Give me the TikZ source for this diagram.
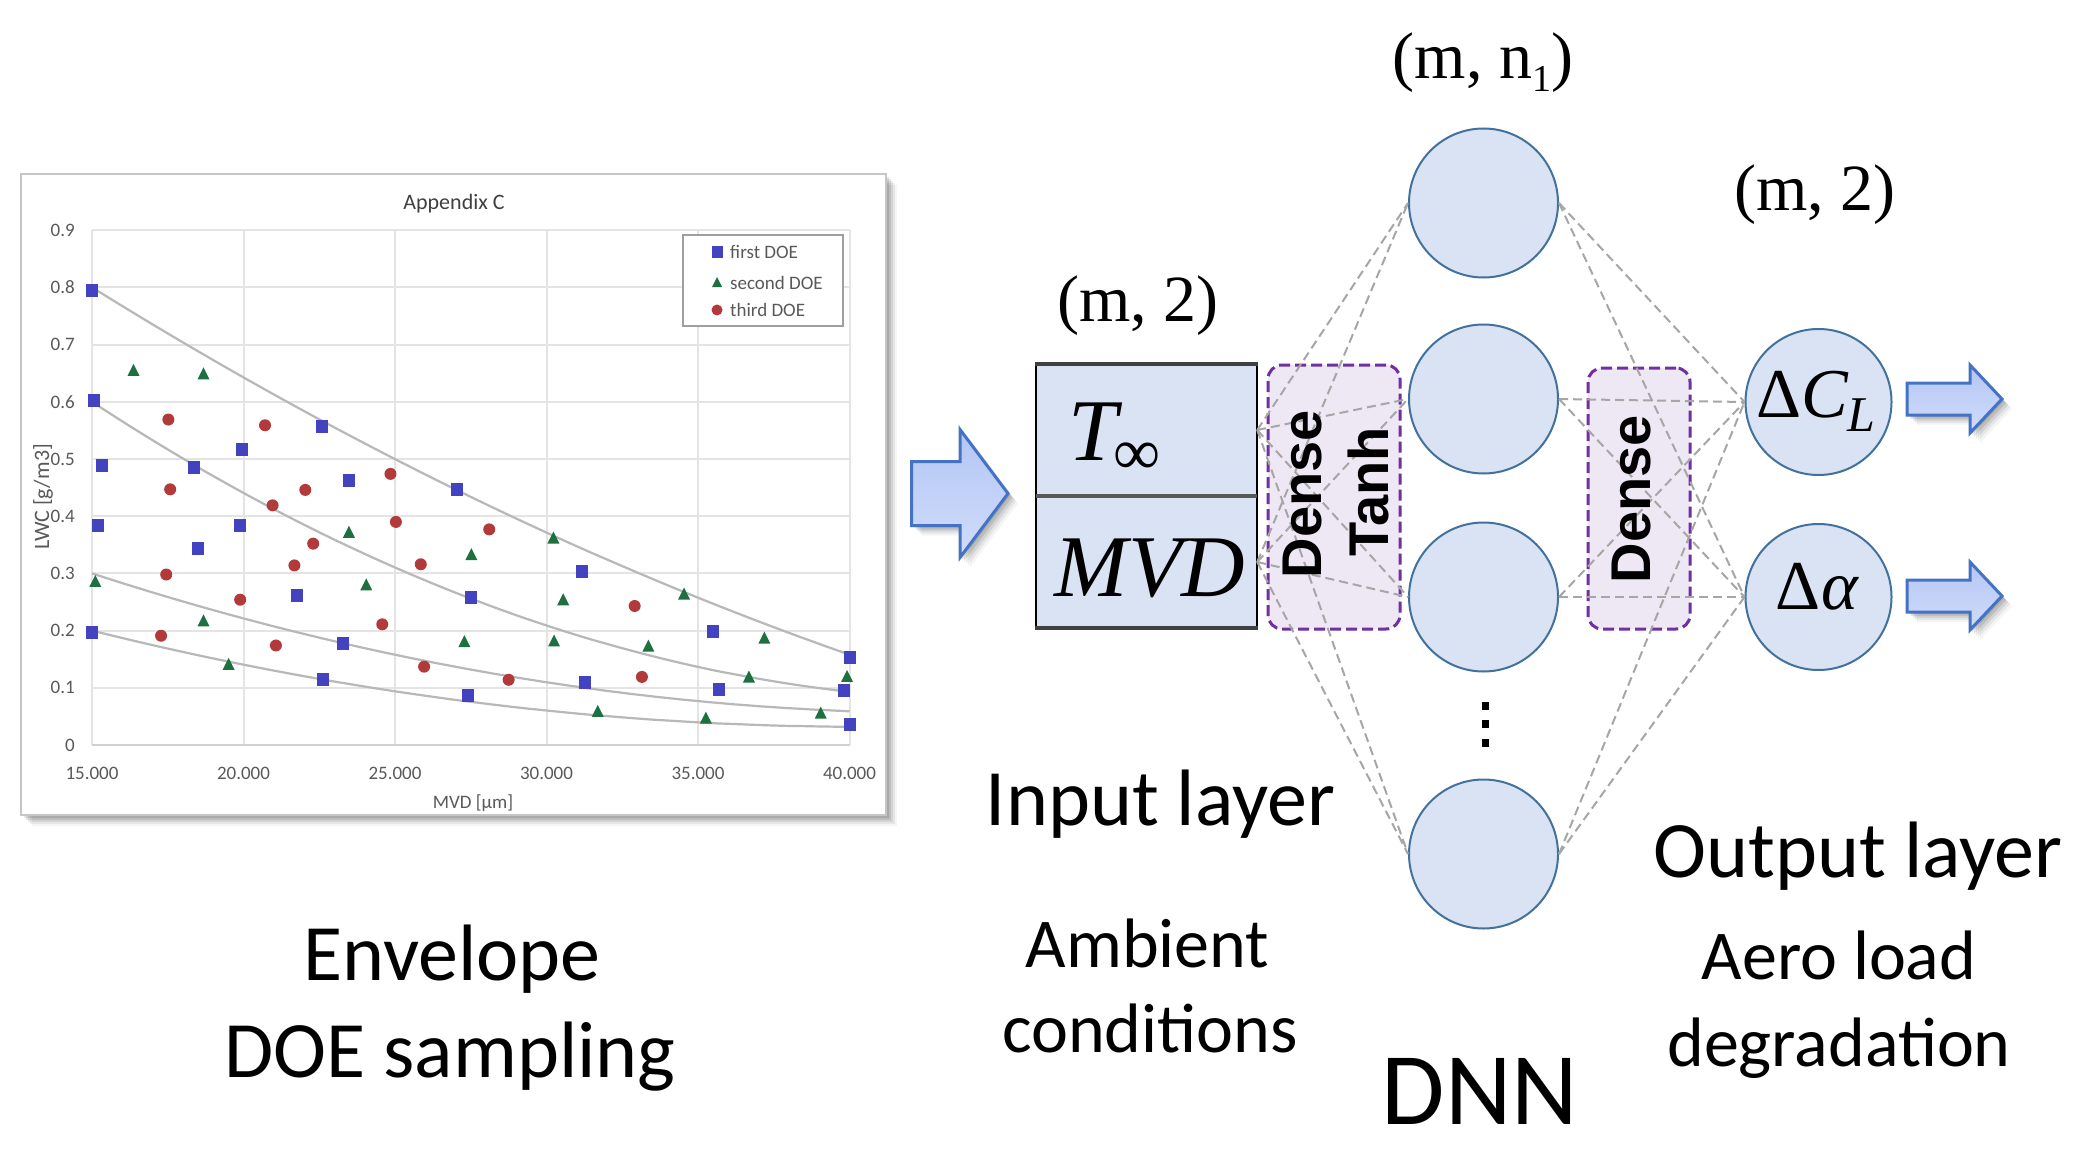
\documentclass[tikz,border=0pt]{standalone}
\usepackage{fontspec}
\setmainfont{Carlito}
\newfontfamily\serifF{Liberation Serif}
\newfontfamily\sansF{Liberation Sans}
\definecolor{cfill}{HTML}{DAE3F3}
\definecolor{cdraw}{HTML}{41719C}
\definecolor{lav}{HTML}{EEE8F5}
\definecolor{purp}{HTML}{7030A0}
\definecolor{connc}{HTML}{A6A6A6}
\definecolor{arrfill}{HTML}{D0DCFA}
\definecolor{arrfilltop}{HTML}{B3C6F4}
\definecolor{arrdraw}{HTML}{4472C4}
\definecolor{mblue}{HTML}{4343BF}
\definecolor{mgreen}{HTML}{1E7040}
\definecolor{mred}{HTML}{B23A3A}
\definecolor{gridc}{HTML}{E4E4E4}
\definecolor{trend}{HTML}{B8B8B8}
\definecolor{axtext}{HTML}{595959}
\newcommand{\rsarrow}[6]{%
  \foreach \k/\op in {10/0.04,8/0.06,6/0.08,4/0.10,2/0.10}{
    \fill[black,opacity=\op] (#1+\k,#2-#3+\k) -- (#4+\k,#2-#3+\k) -- (#4+\k,#2-#5+\k) -- (#6+\k,#2+\k) -- (#4+\k,#2+#5+\k) -- (#4+\k,#2+#3+\k) -- (#1+\k,#2+#3+\k) -- cycle;}
  \draw[bigarrow] (#1,#2-#3) -- (#4,#2-#3) -- (#4,#2-#5) -- (#6,#2) -- (#4,#2+#5) -- (#4,#2+#3) -- (#1,#2+#3) -- cycle;
}
\begin{document}
\begin{tikzpicture}[x=1pt,y=-1pt,
  neuron/.style={circle, draw=cdraw, line width=2pt, fill=cfill, minimum size=149pt, inner sep=0pt},
  cell/.style={rectangle, fill=cfill, minimum width=221pt, minimum height=132pt, inner sep=0pt},
  layerbox/.style={draw=purp, line width=3pt, dash pattern=on 11pt off 5pt, rounded corners=14pt, fill=lav},
  connline/.style={draw=connc, line width=2pt, dash pattern=on 9pt off 5pt},
  bigarrow/.style={draw=arrdraw, line width=3pt, top color=arrfilltop, bottom color=arrfill, line join=miter},
  lbl/.style={font=\fontsize{80}{96}\selectfont, anchor=base, inner sep=0pt},
  sublbl/.style={font=\fontsize{70}{84}\selectfont, anchor=base, inner sep=0pt},
  dimlbl/.style={font=\serifF\fontsize{66}{66}\selectfont, anchor=base, inner sep=0pt},
  axlbl/.style={font=\fontsize{19}{22}\selectfont, text=axtext, inner sep=0pt},
  densetxt/.style={rotate=90, font=\sansF\bfseries\fontsize{56}{56}\selectfont, inner sep=0pt}
]
\useasboundingbox (0,0) rectangle (2085,1161);
\fill[white] (0,0) rectangle (2085,1161);

% ---------------- chart ----------------
\foreach \k/\op in {11/0.04,9/0.06,7/0.08,5/0.10,3/0.10}{
  \fill[black,opacity=\op] (21+\k,174+\k) rectangle (886+\k,815+\k);}
\draw[gray!45, line width=1.5pt, fill=white] (21,174) rectangle (886,815);

\begin{scope}[shift={(-362.5pt,-745pt)}, x=30.3pt, y=572pt]
  \foreach \v in {1,...,9} \draw[gridc, line width=2pt] (15,\v/10) -- (40,\v/10);
  \foreach \u in {15,20,...,40} \draw[gridc, line width=2pt] (\u,0) -- (\u,0.9);
  \draw[gridc!80!gray, line width=2pt] (15,0) -- (40,0);
  \foreach \v/\t in {0/0,1/0.1,2/0.2,3/0.3,4/0.4,5/0.5,6/0.6,7/0.7,8/0.8,9/0.9}
    \node[axlbl, anchor=east, xshift=-17pt] (yl\v) at (15,\v/10) {\t};
  \foreach \u/\t in {15/15.000,20/20.000,25/25.000,30/30.000,35/35.000,40/40.000}
    \node[axlbl, yshift=-28pt] (xl\u) at (\u,0) {\t};
  % trend curves
  \draw[trend, line width=2.2pt, domain=15:40, samples=60] plot (\x, {0.8-0.03292*(\x-15)+0.000285*(\x-15)*(\x-15)});
  \draw[trend, line width=2.2pt, domain=15:40, samples=60] plot (\x, {0.6-0.03476*(\x-15)+0.0005856*(\x-15)*(\x-15)});
  \draw[trend, line width=2.2pt, domain=15:40, samples=60] plot (\x, {0.3-0.01726*(\x-15)+0.000303*(\x-15)*(\x-15)});
  \draw[trend, line width=2.2pt, domain=15:40, samples=60] plot (\x, {0.2-0.0132*(\x-15)+0.000266*(\x-15)*(\x-15)});
  % first DOE
  \foreach \a/\b in {15/0.795,15.06/0.603,15.32/0.489,15.19/0.383,15/0.197,18.38/0.485,18.51/0.343,19.95/0.516,19.87/0.383,21.75/0.262,22.59/0.557,23.48/0.462,23.27/0.178,22.64/0.115,27.03/0.446,27.52/0.257,27.42/0.086,31.18/0.304,31.27/0.110,35.50/0.198,35.69/0.097,40/0.153,39.81/0.095,40/0.036}
    \fill[mblue] (\a,\b) ++(-6pt,-6.5pt) rectangle ++(12pt,13pt);
  % second DOE
  \foreach \a/\b in {16.37/0.654,18.68/0.648,15.11/0.285,18.68/0.216,19.51/0.140,23.48/0.371,24.05/0.279,27.52/0.332,27.29/0.180,30.23/0.361,30.55/0.253,30.25/0.181,31.69/0.058,33.36/0.172,34.54/0.263,35.26/0.046,36.68/0.118,37.19/0.186,39.05/0.055,39.92/0.119}
    \fill[mgreen] (\a,\b) ++(0pt,7pt) -- ++(-6pt,-12pt) -- ++(12pt,0pt) -- cycle;
  % third DOE
  \foreach \a/\b in {17.52/0.569,20.71/0.559,17.58/0.447,20.96/0.419,22.04/0.446,24.85/0.474,25.03/0.390,22.30/0.352,21.68/0.314,17.45/0.298,19.89/0.254,24.58/0.211,17.28/0.191,21.07/0.174,25.85/0.316,28.11/0.377,25.96/0.137,28.75/0.114,32.91/0.243,33.15/0.119}
    \fill[mred] (\a,\b) circle[radius=6pt];
\end{scope}

\node[font=\fontsize{22}{26}\selectfont, text=black!75, inner sep=0pt] (ctitle) at (454,204) {Appendix C};
\node[axlbl] (xtitle) at (473,803) {MVD [µm]};
\node[axlbl, font=\fontsize{22}{26}\selectfont, rotate=90] (ytitle) at (43,497) {LWC [g/m3]};
% legend
\draw[gray!75, line width=2pt, fill=white] (683,235) rectangle (843,326);
\fill[mblue] (717,252) ++(-5.5pt,-6pt) rectangle ++(11pt,12pt);
\fill[mgreen] (717,283) ++(0pt,6pt) -- ++(-5pt,-10pt) -- ++(10pt,0pt) -- cycle;
\fill[mred] (717,310) circle[radius=5.5pt];
\node[axlbl, anchor=west] (lg1) at (730,252) {first DOE};
\node[axlbl, anchor=west] (lg2) at (730,283) {second DOE};
\node[axlbl, anchor=west] (lg3) at (730,310) {third DOE};

% ---------------- arrows ----------------
\rsarrow{911.7}{493.5}{32}{960}{64}{1008}
\rsarrow{1907}{399}{16}{1970}{34}{2002}
\rsarrow{1907}{596}{16}{1970}{34}{2002}

% ---------------- input layer ----------------
\node[cell] (tinf) at (1146.5,430) {};
\node[cell] (mvdc) at (1146.5,562) {};
\draw[black, line width=2.5pt] (tinf.north west) -- (mvdc.south west);
\draw[black, line width=2.5pt] (tinf.north east) -- (mvdc.south east);
\draw[black!75, line width=4.5pt] ([xshift=-1pt]tinf.north west) -- ([xshift=1pt]tinf.north east);
\draw[black!75, line width=4.5pt] ([xshift=-1pt]mvdc.south west) -- ([xshift=1pt]mvdc.south east);
\draw[black!65, line width=4pt] (tinf.south west) -- (tinf.south east);
\node[anchor=base west, inner sep=0pt] (tlabel) at (1068,460) {\serifF\fontsize{88}{88}\selectfont\itshape T\hspace{-4pt}\raisebox{-14pt}{\upshape\fontsize{66}{66}\selectfont ∞}};
\node[anchor=base, inner sep=0pt] (mvdlabel) at (1150,596) {\serifF\fontsize{88}{88}\selectfont\itshape MVD};

% ---------------- layer boxes ----------------
\node[layerbox, minimum width=132pt, minimum height=264pt] (dt) at (1334,497) {};
\node[layerbox, minimum width=102pt, minimum height=261pt] (dd) at (1639,498.5) {};

% ---------------- neurons ----------------
\node[neuron] (h1) at (1483.5,203) {};
\node[neuron] (h2) at (1483.5,399) {};
\node[neuron] (h3) at (1483.5,597) {};
\node[neuron] (h4) at (1483.5,854) {};
\node[neuron, minimum size=146pt] (o1) at (1818.5,402) {};
\node[neuron, minimum size=146pt] (o2) at (1818.5,597) {};

\foreach \i in {tinf,mvdc}
  \foreach \j in {h1,h2,h3,h4}
    \draw[connline] (\i.east) -- (\j.west);
\foreach \j in {h1,h2,h3,h4}
  \foreach \k in {o1,o2}
    \draw[connline] (\j.east) -- (\k.west);

\node[densetxt] (dense1) at (1302,494) {Dense};
\node[densetxt] (tanh) at (1368,492) {Tanh};
\node[densetxt] (dense2) at (1631,499) {Dense};

\node[anchor=base, inner sep=0pt] (dcl) at (1816,417) {\serifF\fontsize{70}{70}\selectfont Δ\itshape C\raisebox{-14pt}{\fontsize{50}{50}\selectfont L}};
\node[anchor=base, inner sep=0pt] (dal) at (1817,609) {\serifF\fontsize{70}{70}\selectfont Δ\itshape\hspace{1pt}α};

% vertical dots
\node[inner sep=0pt, minimum size=0pt] (vdots) at (1485,724) {};
\foreach \dy in {-18,0,19} \fill[black] ([yshift=-\dy pt]vdots) ++(-3.5pt,-4pt) rectangle ++(7pt,8pt);

% ---------------- labels ----------------
\node[dimlbl] (dimh) at (1483,79) {(m, n\raisebox{-13pt}{\fontsize{38}{38}\selectfont 1})};
\node[dimlbl] (dimin) at (1138,321) {(m, 2)};
\node[dimlbl] (dimout) at (1815,211) {(m, 2)};

\node[lbl] (inl) at (1160.5,825) {Input layer};
\node[lbl] (outl) at (1858,877) {Output layer};
\node[sublbl] (amb1) at (1147.5,967) {Ambient};
\node[sublbl] (amb2) at (1150,1052) {conditions};
\node[sublbl] (aero1) at (1839,979) {Aero load};
\node[sublbl] (aero2) at (1839,1066) {degradation};
\node[anchor=base, inner sep=0pt, font=\fontsize{103}{110}\selectfont] (dnn) at (1480,1124) {DNN};
\node[lbl] (env1) at (452,980) {Envelope};
\node[lbl] (env2) at (450,1077) {DOE sampling};
\end{tikzpicture}
\end{document}
